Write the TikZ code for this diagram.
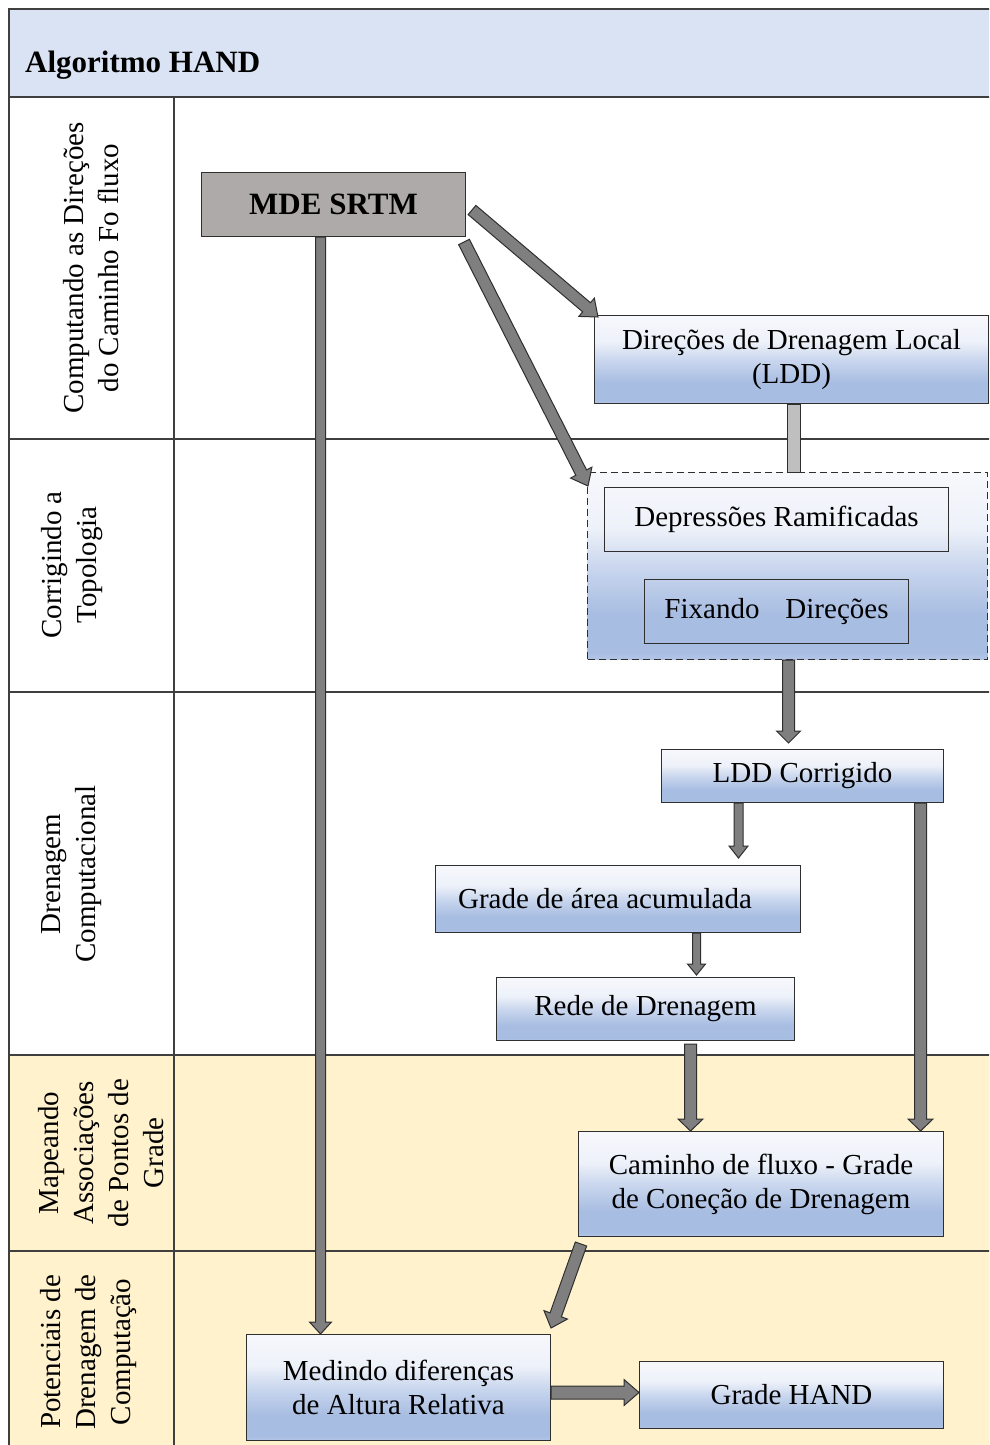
\documentclass[tikz,border=0pt]{standalone}
\usepackage{fontspec}
\setmainfont{Liberation Serif}
\usetikzlibrary{calc}
\definecolor{hdr}{HTML}{DAE3F3}
\definecolor{yel}{HTML}{FFF2CC}
\definecolor{mdegray}{HTML}{AEAAAA}
\definecolor{linec}{HTML}{3F3F3F}
\definecolor{boxline}{HTML}{2F2F2F}
\definecolor{arrfill}{HTML}{7F7F7F}
\definecolor{arrlight}{HTML}{BFBFBF}
\definecolor{sbA}{HTML}{B3C6E7}
\definecolor{sbB}{HTML}{A8BDE2}
\definecolor{sbC}{HTML}{CAD7EE}
\definecolor{sbD}{HTML}{EDF1F9}
\definecolor{sbE}{HTML}{F7F8FC}
\pgfdeclareverticalshading{boxshade}{100bp}{color(0bp)=(sbA); color(25bp)=(sbA); color(27bp)=(sbB); color(37bp)=(sbB); color(50bp)=(sbC); color(60bp)=(sbD); color(75bp)=(sbE); color(100bp)=(sbE)}
\newcommand{\boxfont}{\fontsize{29}{34}\selectfont}
\newcommand{\lanefont}{\fontsize{29}{35}\selectfont}
\newcommand{\boldfont}{\fontsize{31}{36}\selectfont\bfseries}
\tikzset{
  frame/.style={draw=linec, line width=1.3pt},
  lane/.style={rotate=90, align=center, font=\lanefont, inner sep=0pt},
  proc/.style={draw=boxline, line width=1pt, shading=boxshade, align=center, font=\boxfont, inner sep=0pt, anchor=north west},
  plain/.style={draw=boxline, line width=1pt, align=center, font=\boxfont, inner sep=0pt, anchor=north west},
  arr/.style={fill=arrfill, draw=boxline, line width=1pt, line join=miter},
}
% block arrow: [opt]{start}{end}{half shaft}{half head}{head length}
\newcommand{\barrow}[6][]{%
  \path ($(#3)!#6!(#2)$) coordinate (bh);
  \filldraw[arr,#1] ($(#2)!#4!90:(#3)$) -- ($(bh)!#4!90:(#3)$) -- ($(bh)!#5!90:(#3)$) -- (#3) -- ($(bh)!#5!-90:(#3)$) -- ($(bh)!#4!-90:(#3)$) -- ($(#2)!#4!-90:(#3)$) -- cycle;
}
\begin{document}
\begin{tikzpicture}[x=1pt,y=-1pt]
\useasboundingbox (0,0) rectangle (989,1445);
\clip (0,0) rectangle (989,1445);
\fill[white] (0,0) rectangle (989,1445);
% backgrounds
\fill[hdr] (9,9) rectangle (1000,97);
\fill[yel] (9,1055) rectangle (1000,1460);
% frame lines
\draw[frame] (1000,9) -- (9,9) -- (9,1460);
\draw[frame] (9,97) -- (1000,97);
\draw[frame] (9,439) -- (1000,439);
\draw[frame] (9,692) -- (1000,692);
\draw[frame] (9,1055) -- (1000,1055);
\draw[frame] (9,1251) -- (1000,1251);
\draw[frame] (174,97) -- (174,1460);
% title
\node[anchor=base west, font=\boldfont, inner sep=0pt] (title) at (25,72) {Algoritmo HAND};
% lane labels
\node[lane] (l1) at (91,268) {Computando as Direções\\do Caminho Fo fluxo};
\node[lane] (l2) at (72,565) {Corrigindo a\\Topologia};
\node[lane] (l3) at (72,874) {Drenagem\\Computacional};
\node[lane] (l4) at (101,1153) {Mapeando\\Associações\\de Pontos de\\Grade};
\node[lane] (l5) at (89,1352) {Potenciais de\\Drenagem de\\Computação};
% boxes
\node[draw=boxline, line width=1pt, fill=mdegray, minimum width=264, minimum height=64, anchor=north west, inner sep=0pt, font=\boldfont] (mde) at (201,172) {MDE SRTM};
\node[proc, minimum width=394, minimum height=88] (ldd) at (594,315) {Direções de Drenagem Local\\(LDD)};
\node[proc, dash pattern=on 7pt off 4pt, minimum width=400, minimum height=187] (grp) at (587,472) {};
\node[plain, minimum width=344, minimum height=64] (dep) at (604,487) {Depressões Ramificadas};
\node[plain, minimum width=264, minimum height=64] (fix) at (644,579) {Fixando\hspace{26pt}Direções};
\node[proc, minimum width=282, minimum height=53] (lddc) at (661,749) {LDD Corrigido};
\node[proc, minimum width=365, minimum height=67] (area) at (435,865) {Grade de área acumulada\hspace*{26pt}};
\node[proc, minimum width=298, minimum height=63] (rede) at (496,977) {Rede de Drenagem};
\node[proc, minimum width=365, minimum height=105] (cam) at (578,1131) {Caminho de fluxo - Grade\\de Coneção de Drenagem};
\node[proc, minimum width=304, minimum height=106] (med) at (246,1334) {Medindo diferenças\\de Altura Relativa};
\node[proc, minimum width=304, minimum height=67] (hand) at (639,1361) {Grade HAND};
% arrows
\coordinate (a1s) at ($(mde.north east)+(6,38)$);
\coordinate (a1e) at ($(ldd.north west)+(4,2)$);
\barrow{a1s}{a1e}{6pt}{12pt}{15pt}
\coordinate (a2s) at ($(mde.south east)+(-2,5)$);
\coordinate (a2e) at ($(grp.north west)+(1,14)$);
\barrow{a2s}{a2e}{6pt}{12pt}{15pt}
\coordinate (a3s) at ($(mde.south)+(-13,0)$);
\coordinate (a3e) at (a3s |- med.north);
\barrow{a3s}{a3e}{5pt}{11pt}{12pt}
\filldraw[arr, fill=arrlight] ($(ldd.south)+(-4.5,0)$) rectangle ($(grp.north)+(12.5,0)$);
\coordinate (a5s) at ($(grp.south)+(1,0)$);
\coordinate (a5e) at ($(a5s |- lddc.north)+(0,-6)$);
\barrow{a5s}{a5e}{6pt}{12pt}{12pt}
\coordinate (a6s) at ($(lddc.south)+(-64,0)$);
\coordinate (a6e) at ($(a6s |- area.north)+(0,-7)$);
\barrow{a6s}{a6e}{4.5pt}{9.5pt}{12pt}
\coordinate (a7s) at ($(area.south)+(78.5,0)$);
\coordinate (a7e) at ($(a7s |- rede.north)+(0,-2)$);
\barrow{a7s}{a7e}{4pt}{9pt}{11pt}
\coordinate (a8s) at ($(rede.south)+(45,3)$);
\coordinate (a8e) at (a8s |- cam.north);
\barrow{a8s}{a8e}{6pt}{12.5pt}{12pt}
\coordinate (a9s) at ($(lddc.south)+(118,0)$);
\coordinate (a9e) at (a9s |- cam.north);
\barrow{a9s}{a9e}{6pt}{12.5pt}{12pt}
\coordinate (a10s) at ($(cam.south west)+(3,7)$);
\coordinate (a10e) at ($(med.north east)+(0,-6)$);
\barrow{a10s}{a10e}{6pt}{12.5pt}{14pt}
\coordinate (a11s) at ($(med.east)+(0,5)$);
\coordinate (a11e) at (a11s -| hand.west);
\barrow{a11s}{a11e}{6.5pt}{13pt}{15pt}
\end{tikzpicture}
\end{document}
